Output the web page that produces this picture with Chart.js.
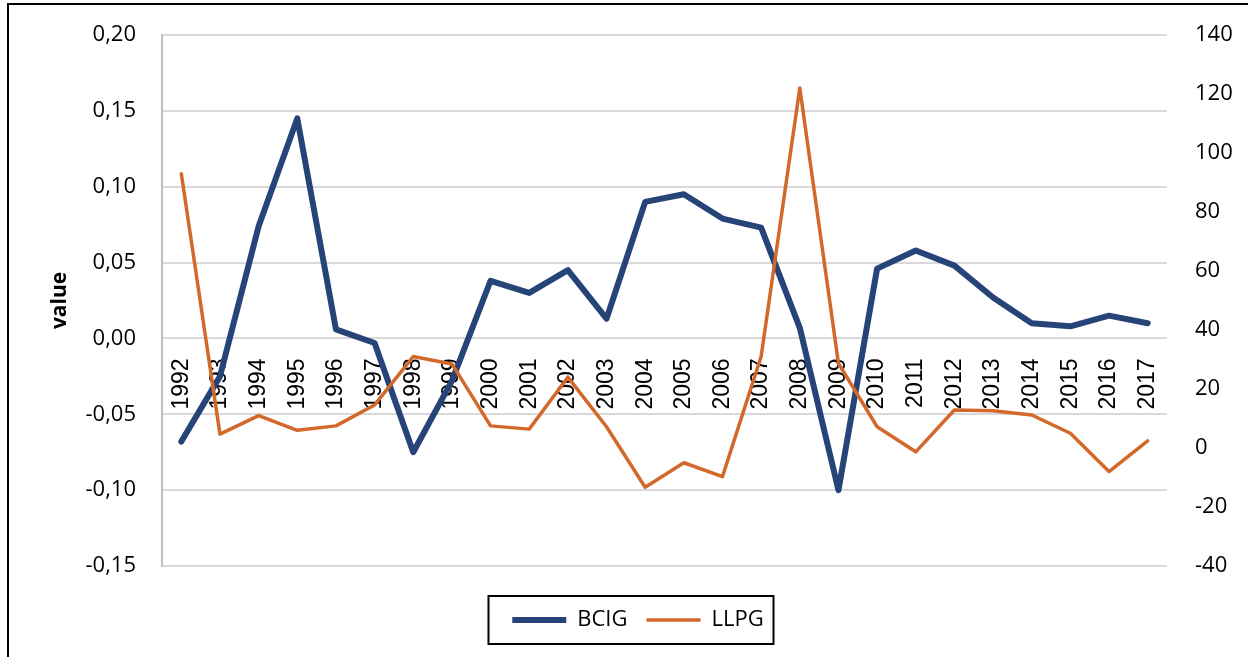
<!DOCTYPE html>
<html>
<head>
<meta charset="utf-8">
<title>BCIG / LLPG</title>
<script src="https://cdn.jsdelivr.net/npm/chart.js@4.4.1/dist/chart.umd.min.js"></script>
<style>
  html, body { margin: 0; padding: 0; background: #fff; }
  #wrap { position: relative; width: 1248px; height: 657px; }
</style>
</head>
<body>
<div id="wrap"><canvas id="chart" width="1248" height="657"></canvas></div>
<script>
// ─── DATA ────────────────────────────────────────────────────────────────────
const YEARS = ['1992', '1993', '1994', '1995', '1996', '1997', '1998', '1999', '2000',
  '2001', '2002', '2003', '2004', '2005', '2006', '2007', '2008', '2009', '2010',
  '2011', '2012', '2013', '2014', '2015', '2016', '2017'];

// left axis
const BCIG = [-0.068, -0.025, 0.074, 0.145, 0.006, -0.003, -0.075, -0.028, 0.038,
  0.030, 0.045, 0.013, 0.090, 0.095, 0.079, 0.073, 0.007, -0.100, 0.046,
  0.058, 0.048, 0.027, 0.010, 0.008, 0.015, 0.010];

// right axis
const LLPG = [93, 4.7, 11, 6, 7.5, 14.6, 31, 28.5, 7.5,
  6.4, 24, 7.2, -13.3, -5, -9.7, 31, 122, 28.7, 7.2,
  -1.3, 12.9, 12.6, 11.2, 5, -8, 2.4];

const LEFT_MIN = -0.15, LEFT_MAX = 0.20, LEFT_STEP = 0.05;
const RIGHT_MIN = -40, RIGHT_MAX = 140, RIGHT_STEP = 20;

// ─── STYLE ───────────────────────────────────────────────────────────────────
const BLUE   = '#264478';
const ORANGE = '#D2692A';
const GRID   = '#D9D9D9';
const CLEAR  = 'rgba(0,0,0,0)';
const TICK_FONT = { family: "'Open Sans', sans-serif", size: 22 };

Chart.defaults.color = '#000';
Chart.defaults.font.family = "'Open Sans', sans-serif";

// frame (top + left edge) and box round the legend
const framePlugin = {
  id: 'frame',
  afterDraw(chart) {
    const ctx = chart.ctx;
    ctx.save();
    ctx.strokeStyle = '#000';
    ctx.lineWidth = 2;
    ctx.beginPath();
    ctx.moveTo(8, 657);
    ctx.lineTo(8, 4);
    ctx.lineTo(1248, 4);
    ctx.stroke();

    const boxes = chart.legend.legendHitBoxes;
    if (boxes && boxes.length) {
      const first = boxes[0], last = boxes[boxes.length - 1];
      const cy = first.top + first.height / 2;
      const x0 = first.left - 24;
      const x1 = last.left + last.width + 10;
      ctx.strokeRect(Math.round(x0) + 0.5, Math.round(cy - 24), Math.round(x1 - x0), 48);
    }
    ctx.restore();
  }
};

new Chart(document.getElementById('chart'), {
  type: 'line',
  data: {
    labels: YEARS,
    datasets: [
      {
        label: 'BCIG',
        data: BCIG,
        yAxisID: 'y',
        borderColor: BLUE,
        backgroundColor: BLUE,
        borderWidth: 6,
        pointRadius: 0,
        tension: 0,
        borderJoinStyle: 'round',
        borderCapStyle: 'round',
        order: 1,
      },
      {
        label: 'LLPG',
        data: LLPG,
        yAxisID: 'y1',
        borderColor: ORANGE,
        backgroundColor: ORANGE,
        borderWidth: 3.5,
        pointRadius: 0,
        tension: 0,
        borderJoinStyle: 'round',
        borderCapStyle: 'round',
        order: 0,
      }
    ]
  },
  options: {
    responsive: false,
    animation: false,
    layout: { padding: { top: 35, left: 28, right: 0, bottom: 16 } },
    plugins: {
      tooltip: { enabled: false },
      legend: {
        position: 'bottom',
        title: { display: true, text: '', font: { size: 10 }, padding: { top: 6, bottom: 6 } },
        labels: {
          usePointStyle: true,
          pointStyle: 'line',
          pointStyleWidth: 54,
          padding: 19,
          font: { size: 22 },
          color: '#000',
          sort: (a, b) => a.datasetIndex - b.datasetIndex,
        }
      }
    },
    scales: {
      x: {
        position: { y: 0 },
        offset: true,
        grid: { display: false, drawTicks: false },
        border: { display: false },
        ticks: {
          minRotation: 90,
          maxRotation: 90,
          autoSkip: false,
          padding: 20,
          color: '#000',
          font: { family: "'Liberation Sans', Arial, sans-serif", size: 23 },
        }
      },
      y: {
        position: 'left',
        min: LEFT_MIN,
        max: LEFT_MAX,
        afterFit: s => { s.width = 134; },
        // invisible tick marks keep the label gap without padding the top
        grid: { color: GRID, lineWidth: 2, drawTicks: true, tickLength: 24, tickColor: CLEAR },
        border: { color: '#BFBFBF', width: 2 },
        ticks: {
          stepSize: LEFT_STEP,
          padding: 2,
          font: TICK_FONT,
          color: '#000',
          callback: v => v.toFixed(2).replace('.', ','),
        },
        title: {
          display: true,
          text: 'value',
          color: '#000',
          font: { family: "'Open Sans', sans-serif", size: 21, weight: 'bold' },
          padding: { top: 19, bottom: 0 },
        }
      },
      y1: {
        position: 'right',
        min: RIGHT_MIN,
        max: RIGHT_MAX,
        afterFit: s => { s.width = 81; },
        grid: { drawOnChartArea: false, drawTicks: true, tickLength: 26, tickColor: CLEAR, color: CLEAR },
        border: { display: false },
        ticks: {
          stepSize: RIGHT_STEP,
          padding: 2,
          font: TICK_FONT,
          color: '#000',
        }
      }
    }
  },
  plugins: [framePlugin]
});
</script>
</body>
</html>
